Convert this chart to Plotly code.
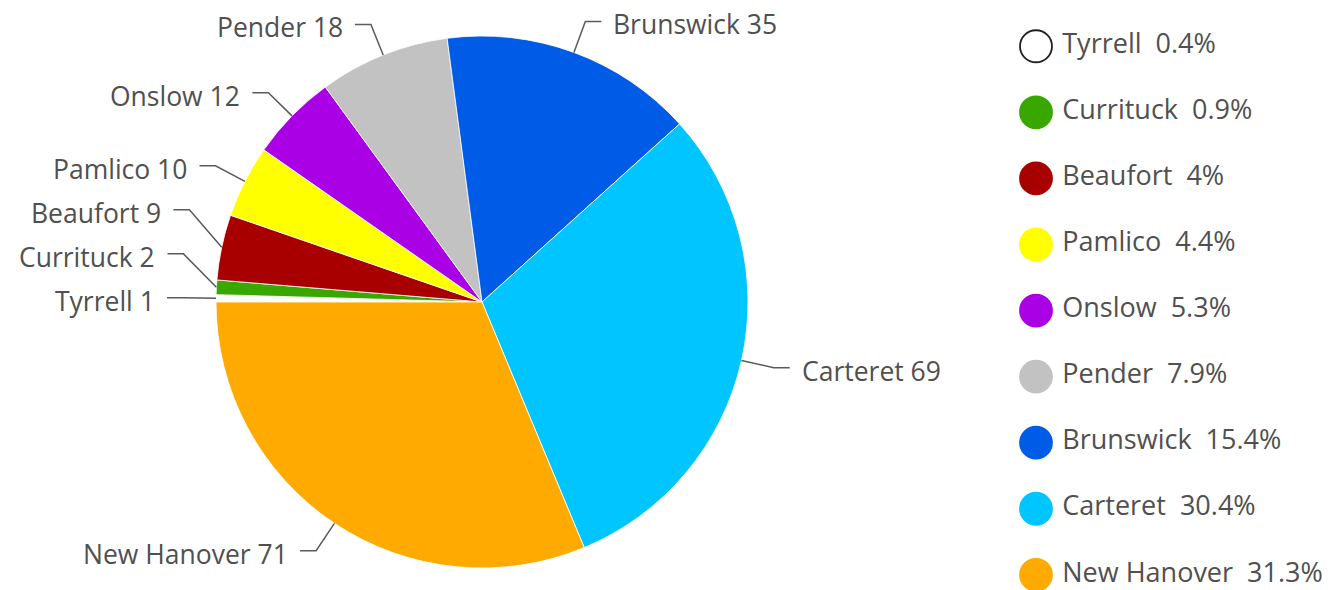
import math
import plotly.graph_objects as go

# ---------------- data ----------------
counties = ["Tyrrell", "Currituck", "Beaufort", "Pamlico", "Onslow",
            "Pender", "Brunswick", "Carteret", "New Hanover"]
counts = [1, 2, 9, 10, 12, 18, 35, 69, 71]
colors = ["#ffffff", "#38a800", "#a80000", "#ffff00", "#a900e6",
          "#c2c2c2", "#005ce6", "#00c5ff", "#ffaa00"]

# ---------------- layout constants ----------------
W, H = 1330, 590
PIE_DOMAIN_X = [216 / W, 748 / W]
PIE_DOMAIN_Y = [22 / H, 554 / H]
ROTATION = -90            # first slice starts at 9 o'clock, clockwise
FONT = "Open Sans"
TEXT_COLOR = "#505050"
LINE_COLOR = "#5a5a5a"
LABEL_SIZE = 26.5
LEGEND_SIZE = 27
ELBOW = 33                # radial extension of leader line (px)
HSEG = 16                 # horizontal segment (px)
GAP = 10                  # gap between line and label (px)
MIN_SEP = 44              # min vertical separation of labels (px)

total = sum(counts)

fig = go.Figure()

fig.add_trace(go.Pie(
    labels=counties, values=counts, sort=False, direction="clockwise",
    rotation=ROTATION, textinfo="none", hoverinfo="label+value+percent",
    marker=dict(colors=colors, line=dict(color="#ffffff", width=0.8)),
    domain=dict(x=PIE_DOMAIN_X, y=PIE_DOMAIN_Y), showlegend=False,
))

# pie geometry (same as plotly's own: r = min(w,h)/2, centred in domain)
cx = W * (PIE_DOMAIN_X[0] + PIE_DOMAIN_X[1]) / 2
cy = H * (1 - (PIE_DOMAIN_Y[0] + PIE_DOMAIN_Y[1]) / 2)
r = min(W * (PIE_DOMAIN_X[1] - PIE_DOMAIN_X[0]),
        H * (PIE_DOMAIN_Y[1] - PIE_DOMAIN_Y[0])) / 2

def px(x):
    return x / W

def py(y):
    return 1 - y / H

labels_info = []
cum = 0
for name, v in zip(counties, counts):
    a = math.radians(ROTATION + (cum + v / 2) / total * 360)
    cum += v
    sx, sy = math.sin(a), -math.cos(a)
    edge = (cx + r * sx, cy + r * sy)
    elbow = [cx + (r + ELBOW) * sx, cy + (r + ELBOW) * sy]
    labels_info.append(dict(name=name, v=v, side=1 if sx >= 0 else -1,
                            edge=edge, elbow=elbow))

# de-overlap labels per side, pushing upward from the bottom
for side in (-1, 1):
    group = sorted([d for d in labels_info if d["side"] == side],
                   key=lambda d: -d["elbow"][1])
    prev = None
    for d in group:
        if prev is not None and d["elbow"][1] > prev - MIN_SEP:
            d["elbow"][1] = prev - MIN_SEP
        prev = d["elbow"][1]

shapes = []
annotations = []
for d in labels_info:
    ex, ey = d["edge"]
    bx, by = d["elbow"]
    hx = bx + d["side"] * HSEG
    shapes.append(dict(
        type="path", xref="paper", yref="paper",
        path=f"M {px(ex)},{py(ey)} L {px(bx)},{py(by)} L {px(hx)},{py(by)}",
        line=dict(color=LINE_COLOR, width=1.5)))
    annotations.append(dict(
        xref="paper", yref="paper", x=px(hx + d["side"] * GAP), y=py(by),
        yshift=-3,
        text=f"{d['name']} {d['v']}", showarrow=False,
        xanchor="left" if d["side"] > 0 else "right", yanchor="middle",
        font=dict(family=FONT, size=LABEL_SIZE, color=TEXT_COLOR)))

# ---------------- legend (circle markers) ----------------
def fmt_pct(v):
    p = round(v / total * 100, 1)
    s = f"{p:.1f}"
    if s.endswith(".0"):
        s = s[:-2]
    return s + "%"

rows = list(range(len(counties)))
legend_text = [f"{n}\u00a0\u00a0{fmt_pct(v)}" for n, v in zip(counties, counts)]
outline = ["#222222" if c.lower() == "#ffffff" else c for c in colors]

fig.add_trace(go.Scatter(
    x=[0] * len(rows), y=rows, mode="markers", hoverinfo="skip",
    marker=dict(size=32, color=colors, line=dict(color=outline, width=1.8)),
    showlegend=False, xaxis="x", yaxis="y"))
fig.add_trace(go.Scatter(
    x=[0.75] * len(rows), y=rows, mode="text", text=legend_text,
    textposition="middle right", hoverinfo="skip",
    textfont=dict(family=FONT, size=LEGEND_SIZE, color=TEXT_COLOR),
    showlegend=False, xaxis="x", yaxis="y"))

fig.update_layout(
    width=W, height=H, margin=dict(l=0, r=0, t=0, b=0),
    paper_bgcolor="#ffffff", plot_bgcolor="rgba(0,0,0,0)",
    font=dict(family=FONT, color=TEXT_COLOR),
    shapes=shapes, annotations=annotations,
    xaxis=dict(domain=[0.75, 1], range=[-1.1, 8.4], visible=False,
               fixedrange=True),
    yaxis=dict(domain=[0, 1], range=[8.23, -0.7], visible=False,
               fixedrange=True),
)

fig.write_html(
    "out.html",
    config={"displayModeBar": False},
    post_script="document.body.style.margin='0';"
                "document.body.style.overflow='hidden';",
)
